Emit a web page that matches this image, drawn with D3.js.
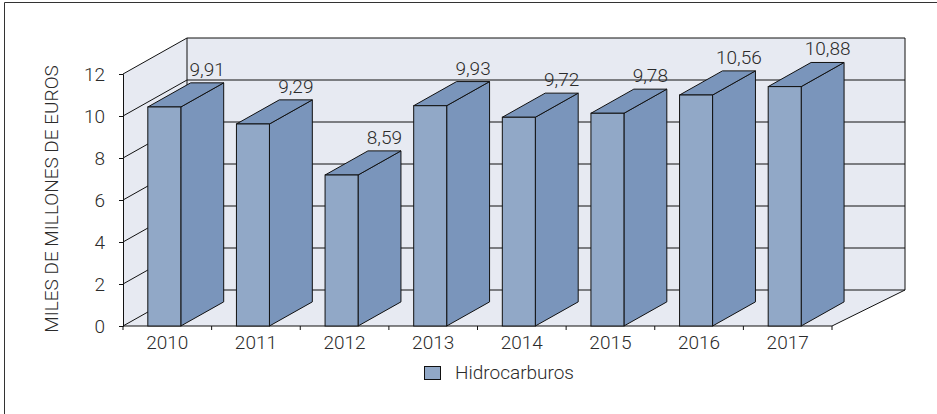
<!DOCTYPE html>
<html>
<head>
<meta charset="utf-8">
<script src="https://cdn.jsdelivr.net/npm/d3@7"></script>
<style>
  body { margin: 0; background: #fff; }
  text { font-family: Roboto, "Liberation Sans", Arial, sans-serif; font-weight: 300; fill: #2b2b2b; }
</style>
</head>
<body>
<svg id="chart" width="937" height="414"></svg>
<script>
// Data.
var years = ['2010', '2011', '2012', '2013', '2014', '2015', '2016', '2017'];
// Bar heights as drawn in the picture (miles de millones de euros).
var heights = [10.43, 9.62, 7.19, 10.49, 9.94, 10.13, 11.0, 11.4];
// Printed labels above the bars.
var labels = ['9,91', '9,29', '8,59', '9,93', '9,72', '9,78', '10,56', '10,88'];
var yTicks = [0, 2, 4, 6, 8, 10, 12];
var seriesName = 'Hidrocarburos';

(function() {
	'use strict';

	var svg = d3.select('#chart'),
			wallFill = '#e7eaf2',
			frontFill = '#91a8c7',
			sideFill = '#7a95bb',
			fontSize = '19px',
			depth = {dx: 64, dy: -36},
			barDepth = 0.67,
			barWidth = 33;

	// Front plane and back plane scales.
	var xFront = d3.scaleBand().domain(years).range([123, 832]),
			xBack = d3.scaleBand().domain(years).range([187, 905]),
			yFront = d3.scaleLinear().domain([0, 12]).range([326, 74]),
			yBack = d3.scaleLinear().domain([0, 12]).range([290, 38]);

	var x0 = xFront.range()[0], x1 = xFront.range()[1],
			bx0 = xBack.range()[0], bx1 = xBack.range()[1];

	// Outer frame (left and top only).
	svg.append('path')
		.attr('d', 'M4.5,414V2.5H937')
		.attr('fill', 'none')
		.attr('stroke', '#333')
		.attr('stroke-width', 1);

	// Walls.
	svg.append('path') // back wall
		.attr('d', 'M' + bx0 + ',' + yBack(12) + 'H' + bx1 + 'V' + yBack(0) + 'H' + bx0 + 'Z')
		.attr('fill', wallFill).attr('stroke', 'none');
	svg.append('path') // left wall
		.attr('d', 'M' + x0 + ',' + yFront(0) + 'V' + yFront(12) + 'L' + bx0 + ',' + yBack(12)
			+ 'V' + yBack(0) + 'Z')
		.attr('fill', wallFill).attr('stroke', 'none');
	svg.append('path') // floor
		.attr('d', 'M' + x0 + ',' + yFront(0) + 'H' + x1 + 'L' + bx1 + ',' + yBack(0)
			+ 'H' + bx0 + 'Z')
		.attr('fill', wallFill).attr('stroke', 'none');

	// Gridlines on back wall and left wall.
	svg.selectAll('.grid').data(yTicks).enter()
		.append('path').attr('class', 'grid')
		.attr('d', function(v) {
			return 'M' + x0 + ',' + yFront(v) + 'L' + bx0 + ',' + yBack(v) + 'H' + bx1;})
		.attr('fill', 'none')
		.attr('stroke', '#111')
		.attr('stroke-width', 1);

	// Wall edges.
	svg.append('path')
		.attr('d', 'M' + bx0 + ',' + yBack(0) + 'V' + yBack(12)
			+ 'M' + bx1 + ',' + yBack(12) + 'V' + yBack(0)
			+ 'L' + x1 + ',' + yFront(0))
		.attr('fill', 'none').attr('stroke', '#111').attr('stroke-width', 1);

	// Axes on the front plane.
	var yAxis = d3.axisLeft(yFront).tickValues(yTicks).tickSize(4).tickPadding(14);
	var gy = svg.append('g').attr('transform', 'translate(' + x0 + ',0)').call(yAxis);
	gy.select('.domain').attr('stroke', '#111');
	gy.selectAll('.tick line').attr('stroke', '#111');
	gy.selectAll('.tick text')
		.style('font-size', fontSize)
		.attr('fill', '#2b2b2b');

	var xAxis = d3.axisBottom(xFront).tickSize(0).tickPadding(10);
	var gx = svg.append('g').attr('transform', 'translate(0,' + yFront(0) + ')').call(xAxis);
	gx.select('.domain').remove();
	gx.selectAll('.tick text')
		.style('font-size', fontSize)
		.attr('fill', '#2b2b2b');
	svg.append('line')
		.attr('x1', x0).attr('x2', x1)
		.attr('y1', yFront(0)).attr('y2', yFront(0))
		.attr('stroke', '#111');
	// Tick marks between categories.
	var bounds = years.map(function(d) {return xFront(d);}).concat([x1]);
	svg.selectAll('.xtick').data(bounds).enter()
		.append('line').attr('class', 'xtick')
		.attr('x1', function(d) {return d;}).attr('x2', function(d) {return d;})
		.attr('y1', yFront(0)).attr('y2', yFront(0) + 4)
		.attr('stroke', '#111');

	// Bars.
	var ddx = depth.dx * barDepth, ddy = depth.dy * barDepth;
	var bars = svg.selectAll('.bar').data(years).enter()
		.append('g').attr('class', 'bar');

	function left(d) {return xFront(d) + xFront.bandwidth() / 2 - 3 - barWidth / 2;}
	function top(d, i) {return yFront(heights[i]);}

	bars.append('path') // side
		.attr('d', function(d, i) {
			var l = left(d) + barWidth, t = top(d, i), b = yFront(0);
			return 'M' + l + ',' + b + 'V' + t + 'l' + ddx + ',' + ddy
				+ 'V' + (b + ddy) + 'Z';})
		.attr('fill', sideFill).attr('stroke', '#111').attr('stroke-width', 1)
		.attr('stroke-linejoin', 'round');
	bars.append('path') // top
		.attr('d', function(d, i) {
			var l = left(d), t = top(d, i);
			return 'M' + l + ',' + t + 'l' + ddx + ',' + ddy + 'h' + barWidth
				+ 'l' + (-ddx) + ',' + (-ddy) + 'Z';})
		.attr('fill', sideFill).attr('stroke', '#111').attr('stroke-width', 1)
		.attr('stroke-linejoin', 'round');
	bars.append('rect') // front
		.attr('x', left)
		.attr('y', top)
		.attr('width', barWidth)
		.attr('height', function(d, i) {return yFront(0) - top(d, i);})
		.attr('fill', frontFill).attr('stroke', '#111').attr('stroke-width', 1);

	// Value labels above the back top edge.
	bars.append('text')
		.attr('x', function(d) {return left(d) + ddx + barWidth / 2;})
		.attr('y', function(d, i) {return top(d, i) + ddy - 7;})
		.attr('text-anchor', 'middle')
		.style('font-size', fontSize)
		.text(function(d, i) {return labels[i];});

	// Y axis title.
	svg.append('text')
		.attr('transform', 'translate(58,199)rotate(-90)')
		.attr('text-anchor', 'middle')
		.style('font-size', fontSize)
		.text('MILES DE MILLONES DE EUROS');

	// Legend.
	svg.append('rect')
		.attr('x', 424.5).attr('y', 366.5)
		.attr('width', 16).attr('height', 13)
		.attr('fill', frontFill).attr('stroke', '#111');
	svg.append('text')
		.attr('x', 455).attr('y', 379)
		.style('font-size', fontSize)
		.text(seriesName);
})();
</script>
</body>
</html>
